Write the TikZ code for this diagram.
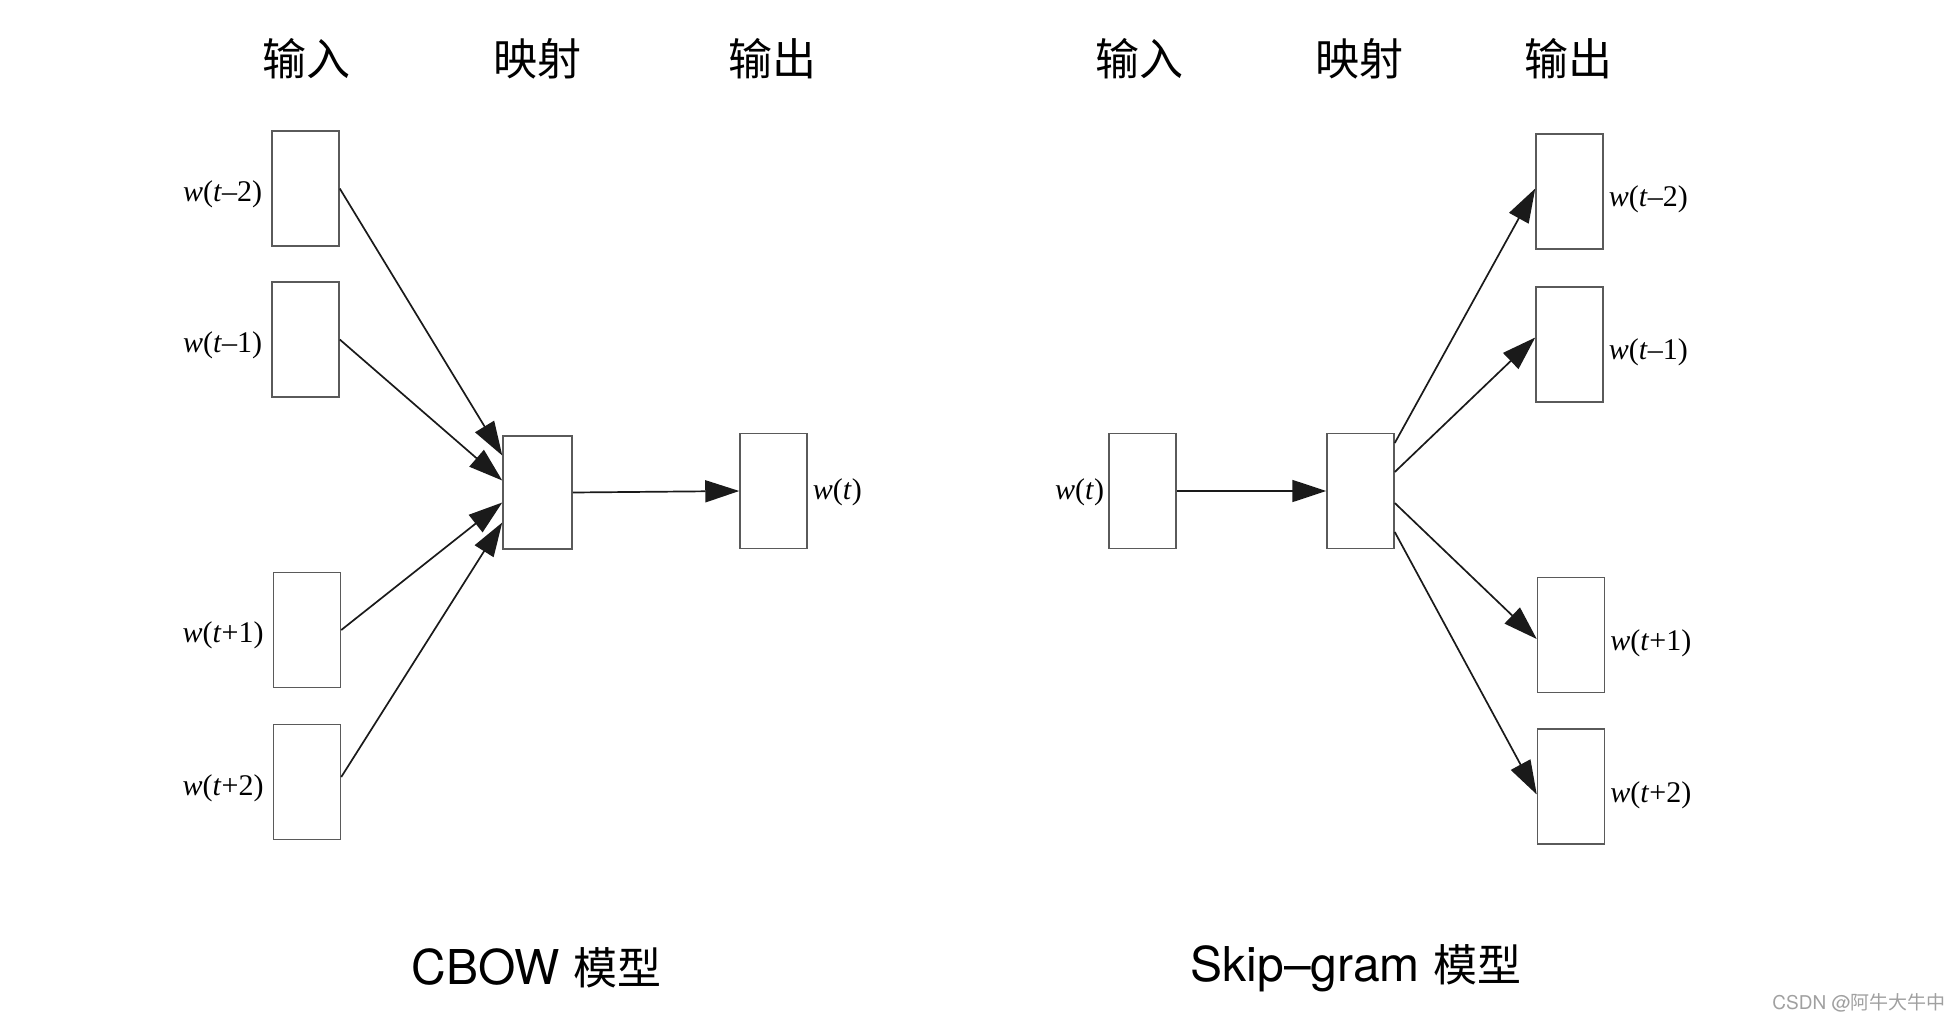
\documentclass[tikz,border=0pt]{standalone}
\usepackage{fontspec}
\usepackage{tikz}
\usetikzlibrary{arrows.meta}
\setmainfont{Liberation Serif}
\setsansfont{TeX Gyre Heros}
\newfontfamily\cjkfont{Noto Sans CJK SC}
\definecolor{C5A5A5A}{HTML}{5A5A5A}
\definecolor{C1A1A1A}{HTML}{1A1A1A}
\definecolor{CA0A0A0}{HTML}{A0A0A0}
\newcommand\wlab[1]{\textit{w}(\textit{t}#1)}

\begin{document}
\begin{tikzpicture}[inner sep=0pt,
  vec/.style={minimum width=67pt, minimum height=115pt, draw=C5A5A5A, line width=1.5pt, shape=rectangle},
  word/.style={font=\fontsize{30}{32}\selectfont},
  head/.style={font=\cjkfont\fontsize{44}{48}\selectfont},
  title/.style={font=\sffamily\fontsize{48}{52}\selectfont},
  edge/.style={-{Triangle[length=34pt,width=22pt]}, line width=1.7pt, draw=C1A1A1A}]
\useasboundingbox (0pt,0pt) rectangle (1958pt,-1022pt);

% CBOW
\node (h0) [head, at={(306pt,-59pt)}] {输入};
\node (h1) [head, at={(537pt,-59pt)}] {映射};
\node (h2) [head, at={(772pt,-59pt)}] {输出};
\node (n0) [vec, at={(305.5pt,-188.5pt)}] {};
\node (n1) [vec, at={(305.5pt,-339.5pt)}] {};
\node (n2) [vec, at={(307pt,-630pt)}] {};
\node (n3) [vec, at={(307pt,-782pt)}] {};
\node (n4) [vec, minimum width=69pt, minimum height=113pt, at={(537.5pt,-492.5pt)}] {};
\node (n5) [vec, at={(773.5pt,-491pt)}] {};

\path (n0.west) ++(-9pt,-6pt) node (l0) [word, anchor=east] {\wlab{–2}};
\path (n1.west) ++(-9pt,-6pt) node (l1) [word, anchor=east] {\wlab{–1}};
\path (n2.west) ++(-9pt,-5pt) node (l2) [word, anchor=east] {\wlab{+1}};
\path (n3.west) ++(-9pt,-6pt) node (l3) [word, anchor=east] {\wlab{+2}};
\path (n5.east) ++(5pt,-1pt) node (l4) [word, anchor=west] {\wlab{}};

\path [edge] (n0.east)--([yshift=37pt]n4.west);
\path [edge] (n1.east)--([yshift=12pt]n4.west);
\path [edge] (n2.east)--([yshift=-10pt]n4.west);
\path [edge] ([yshift=5pt]n3.east)--([yshift=-30pt]n4.west);
\path [edge] (n4.east)--(n5.west);

\node (t0) [title, at={(536.5pt,-968pt)}] {CBOW {\cjkfont\fontsize{44}{50}\selectfont 模型}};

% Skip-gram
\node (h3) [head, at={(1139pt,-59pt)}] {输入};
\node (h4) [head, at={(1359pt,-59pt)}] {映射};
\node (h5) [head, at={(1568pt,-59pt)}] {输出};
\node (n6) [vec, at={(1142.5pt,-491pt)}] {};
\node (n7) [vec, at={(1360.5pt,-491pt)}] {};
\node (n8) [vec, at={(1569.5pt,-191.5pt)}] {};
\node (n9) [vec, at={(1569.5pt,-344.5pt)}] {};
\node (n10) [vec, at={(1571pt,-635pt)}] {};
\node (n11) [vec, at={(1571pt,-786.5pt)}] {};

\path (n6.west) ++(-4pt,-1pt) node (l5) [word, anchor=east] {\wlab{}};
\path (n8.east) ++(5pt,-8pt) node (l6) [word, anchor=west] {\wlab{–2}};
\path (n9.east) ++(5pt,-8pt) node (l7) [word, anchor=west] {\wlab{–1}};
\path (n10.east) ++(5pt,-8pt) node (l8) [word, anchor=west] {\wlab{+1}};
\path (n11.east) ++(5pt,-9pt) node (l9) [word, anchor=west] {\wlab{+2}};

\path [edge] (n6.east)--(n7.west);
\path [edge] ([yshift=48pt]n7.east)--([yshift=3pt]n8.west);
\path [edge] ([yshift=19pt]n7.east)--([yshift=7pt]n9.west);
\path [edge] ([yshift=-12pt]n7.east)--([yshift=-4pt]n10.west);
\path [edge] ([yshift=-41pt]n7.east)--([yshift=-8pt]n11.west);

\node (t1) [title, at={(1356pt,-968pt)}] {Skip–gram {\cjkfont\fontsize{44}{50}\selectfont 模型}};

\node (wm) [anchor=east, text=CA0A0A0, font=\sffamily\fontsize{19}{21}\selectfont, at={(1946pt,-1003pt)}] {CSDN @{\cjkfont 阿牛大牛中}};
\end{tikzpicture}
\end{document}
